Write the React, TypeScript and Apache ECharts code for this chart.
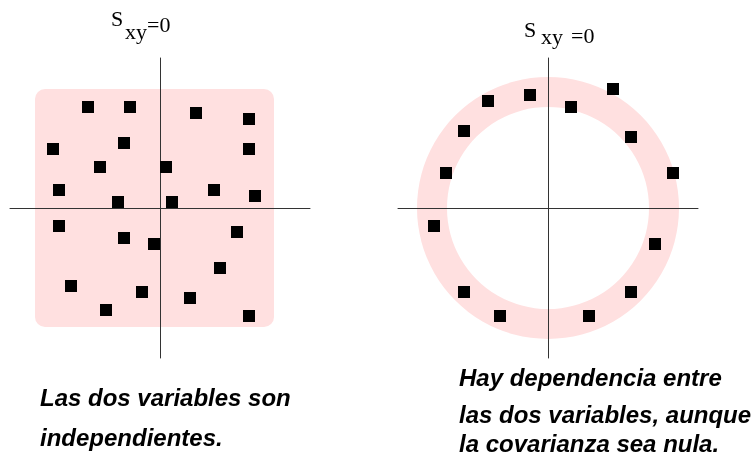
import React, { useEffect, useRef } from "react";
import * as echarts from "echarts";

// Left panel: independent variables (square cloud)
const leftX = [-72, -30, 36, 89, -107, -36, 89, -60, 6, -101, 54, 95, -42, 12, -101, -36, -6, 77, 60, -89, -18, 30, -54, 89];
const leftY = [101, 101, 95, 89, 59, 65, 59, 41, 41, 18, 18, 12, 6, 6, -18, -30, -36, -24, -60, -78, -84, -90, -102, -108];
// Right panel: dependent variables on a ring
const rightX = [-18, -60, 65, 23, -84, 83, -102, 125, -114, 107, -84, 83, -48, 41];
const rightY = [113, 107, 119, 101, 77, 71, 35, 35, -18, -36, -84, -84, -108, -108];

// Background shapes (data units)
const squareBox = [-125, 119, 114, -119]; // x0, y0, x1, y1
const ringRadii = [0, 0, 131, 101]; // cx, cy, outer, inner

const titleParts = ["S", "xy", "=0"];
const leftCaption = ["Las dos variables son", "independientes."];
const rightCaption = ["Hay dependencia entre", "las dos variables, aunque", "la covarianza sea nula."];

const PINK = "#ffe0e0";

function axisPair(gridIndex: number) {
  const common = {
    type: "value" as const,
    gridIndex,
    min: -150,
    max: 150,
    axisTick: { show: false },
    axisLabel: { show: false },
    splitLine: { show: false },
    axisLine: { show: true, onZero: true, lineStyle: { color: "#333", width: 1 } },
  };
  return { x: { ...common }, y: { ...common } };
}

export default function App() {
  const ref = useRef<HTMLDivElement>(null);
  useEffect(() => {
    if (!ref.current) return;
    const chart = echarts.init(ref.current, undefined, { renderer: "svg" });
    const a0 = axisPair(0);
    const a1 = axisPair(1);
    const serif = "Liberation Serif";
    const sans = "Liberation Sans";
    const titleText = (x: number, y: number, text: string, size: number) => ({
      type: "text",
      x,
      y,
      style: { text, fontFamily: serif, fontSize: size, fill: "#000", verticalAlign: "middle", align: "left" },
    });
    const capText = (x: number, y: number, text: string) => ({
      type: "text",
      x,
      y,
      style: {
        text,
        fontFamily: sans,
        fontSize: 24,
        fontWeight: "bold",
        fontStyle: "italic",
        fill: "#000",
        verticalAlign: "middle",
        align: "left",
      },
    });
    const capY = [397, 437];
    const capYR = [377, 414, 443];
    chart.setOption({
      animation: false,
      grid: [
        { left: 10, top: 58, width: 300, height: 300 },
        { left: 398, top: 58, width: 300, height: 300 },
      ],
      xAxis: [a0.x, a1.x],
      yAxis: [a0.y, a1.y],
      series: [
        {
          type: "custom",
          xAxisIndex: 0,
          yAxisIndex: 0,
          z: -1,
          clip: false,
          silent: true,
          data: [squareBox],
          encode: { x: [0, 2], y: [1, 3] },
          renderItem: (params: any, api: any) => {
            const p0 = api.coord([api.value(0), api.value(1)]);
            const p1 = api.coord([api.value(2), api.value(3)]);
            return {
              type: "rect",
              shape: { x: p0[0], y: p0[1], width: p1[0] - p0[0], height: p1[1] - p0[1], r: 10 },
              style: { fill: PINK },
            };
          },
        },
        {
          type: "custom",
          xAxisIndex: 1,
          yAxisIndex: 1,
          z: -1,
          clip: false,
          silent: true,
          data: [ringRadii],
          encode: { x: 0, y: 1 },
          renderItem: (params: any, api: any) => {
            const c = api.coord([api.value(0), api.value(1)]);
            const r = api.size([api.value(2), 0])[0];
            const r0 = api.size([api.value(3), 0])[0];
            return {
              type: "ring",
              shape: { cx: c[0], cy: c[1], r, r0 },
              style: { fill: PINK },
            };
          },
        },
        {
          type: "scatter",
          xAxisIndex: 0,
          yAxisIndex: 0,
          symbol: "rect",
          symbolSize: 12,
          itemStyle: { color: "#000", opacity: 1 },
          data: leftX.map((x, i) => [x, leftY[i]]),
        },
        {
          type: "scatter",
          xAxisIndex: 1,
          yAxisIndex: 1,
          symbol: "rect",
          symbolSize: 12,
          itemStyle: { color: "#000", opacity: 1 },
          data: rightX.map((x, i) => [x, rightY[i]]),
        },
      ],
      graphic: [
        titleText(111, 18, titleParts[0], 22),
        titleText(125, 31, titleParts[1], 22),
        titleText(147, 24, titleParts[2], 22),
        titleText(524, 29, titleParts[0], 22),
        titleText(541, 36, titleParts[1], 22),
        titleText(571, 35.5, titleParts[2], 22),
        ...leftCaption.map((t, i) => capText(40, capY[i], t)),
        ...rightCaption.map((t, i) => capText(459, capYR[i], t)),
      ],
    });
    return () => chart.dispose();
  }, []);
  return <div ref={ref} style={{ position: "fixed", left: 0, top: 0, width: 753, height: 458 }} />;
}
